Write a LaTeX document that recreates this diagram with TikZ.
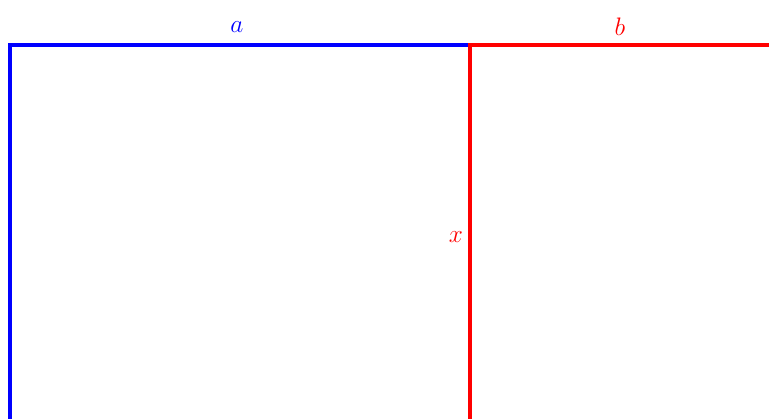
\documentclass[tikz,border=0pt]{standalone}
\usepackage{amsmath,amssymb}
\usepackage{tikz}
\usetikzlibrary{positioning, arrows.meta, calc}

\begin{document}
\begin{tikzpicture}[x=0.02cm,y=0.02cm]
	% 定义样式
	\tikzset{
		edge/.style={line width=2.2pt},
		lbl/.style={inner sep=1pt, font=\Large}
	}
	\useasboundingbox (0,0) rectangle (769,419);
	
	% 顶点
	\coordinate (topleft) at (10,374);
	\coordinate (topmid) at (470,374);
	\coordinate (topright) at (769,374);
	\coordinate (botleft) at (10,0);
	\coordinate (botmid) at (470,0);
	
	% 蓝色边 a
	\draw[edge, blue] (botleft) -- (topleft) -- (topmid);
	
	% 红色边 b 和 x
	\draw[edge, red] (topright) -- (topmid) -- (botmid);
	
	% 标签
	\node[lbl, blue] (la) at (237,392) {$a$};
	\node[lbl, red] (lb) at (620,392) {$b$};
	\node[lbl, red] (lx) at (456,182) {$x$};
\end{tikzpicture}
\end{document}
